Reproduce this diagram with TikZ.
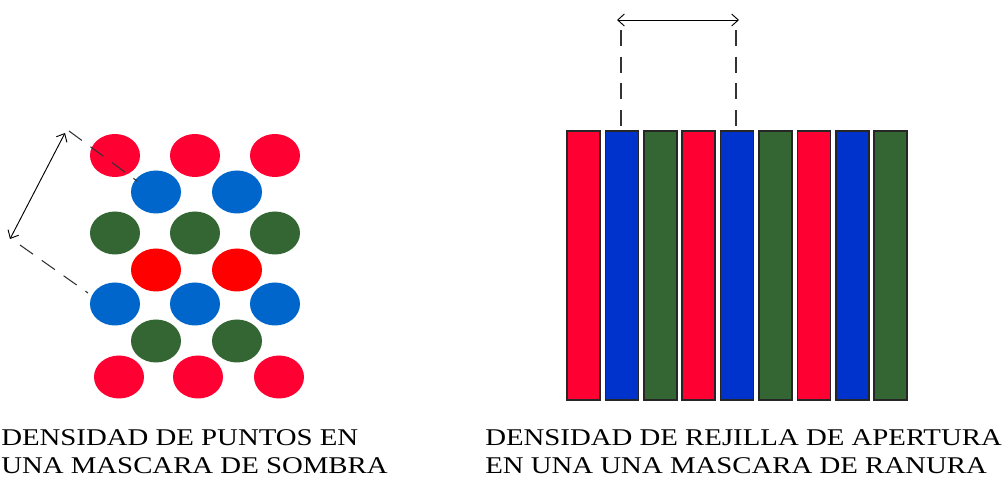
\documentclass[tikz,border=0pt]{standalone}
\usepackage{fontspec}
\setmainfont{Liberation Serif}
\newfontfamily\lblfont[FakeStretch=1.2]{Liberation Serif}
\usetikzlibrary{arrows.meta}
\definecolor{crim}{HTML}{FF0033}
\definecolor{pure}{HTML}{FF0000}
\definecolor{dotblue}{HTML}{0066CC}
\definecolor{barblue}{HTML}{0033CC}
\definecolor{dgreen}{HTML}{336633}
\tikzset{
  dimarrow/.style={{Straight Barb[length=5pt,width=9pt]}-{Straight Barb[length=5pt,width=9pt]}, line width=0.7pt},
  guide/.style={dash pattern=on 12pt off 8pt, line width=0.8pt, draw=black!80},
  bar/.style={draw=black!85, line width=1.1pt},
  lbl/.style={anchor=base west, inner sep=0pt, font=\lblfont\fontsize{18pt}{21pt}\selectfont}
}
\begin{document}
\begin{tikzpicture}[x=0.75pt,y=-0.75pt]
\useasboundingbox (0,0) rectangle (1008,477);
% --- dots (shadow mask)
\def\rx{25}\def\ry{21.5}
\foreach \x in {115,195,275} \fill[crim] (\x,155.5) ellipse [x radius=\rx, y radius=\ry];
\foreach \x in {156,237} \fill[dotblue] (\x,192) ellipse [x radius=\rx, y radius=\ry];
\foreach \x in {115,195,275} \fill[dgreen] (\x,233) ellipse [x radius=\rx, y radius=\ry];
\foreach \x in {156,237} \fill[pure] (\x,270) ellipse [x radius=\rx, y radius=\ry];
\foreach \x in {115,195,275} \fill[dotblue] (\x,304) ellipse [x radius=\rx, y radius=\ry];
\foreach \x in {156,237} \fill[dgreen] (\x,341) ellipse [x radius=\rx, y radius=\ry];
\foreach \x in {119,198,279} \fill[crim] (\x,377) ellipse [x radius=\rx, y radius=\ry];
% left dimension
\coordinate (la) at (65,133);
\coordinate (lb) at (10,239);
\coordinate (lt1) at (69,131);
\coordinate (lt2) at (137,181);
\coordinate (lu1) at (20,245);
\coordinate (lu2) at (88,293);
\draw[guide] (lt1) -- (lt2);
\draw[guide] (lu1) -- (lu2);
\draw[dimarrow] (la) -- (lb);
% --- bars (slot mask)
\foreach \i/\c in {0/crim,1/barblue,2/dgreen,3/crim,4/barblue,5/dgreen,6/crim,7/barblue,8/dgreen}
  \filldraw[bar, fill=\c] ({567+38.4*\i},131) rectangle ({600+38.4*\i},400);
\coordinate (va1) at (621,30);
\coordinate (va2) at (621,128);
\coordinate (vb1) at (736,30);
\coordinate (vb2) at (736,128);
\draw[guide] (va1) -- (va2);
\draw[guide] (vb1) -- (vb2);
\coordinate (ha) at (617,20);
\coordinate (hb) at (739,20);
\draw[dimarrow] (ha) -- (hb);
% --- labels
\node[lbl] (t1) at (1,446) {DENSIDAD DE PUNTOS EN};
\node[lbl] (t2) at (1,474) {UNA MASCARA DE SOMBRA};
\node[lbl] (t3) at (485,446) {DENSIDAD DE REJILLA DE APERTURA};
\node[lbl] (t4) at (485,474) {EN UNA UNA MASCARA DE RANURA};
\end{tikzpicture}
\end{document}
